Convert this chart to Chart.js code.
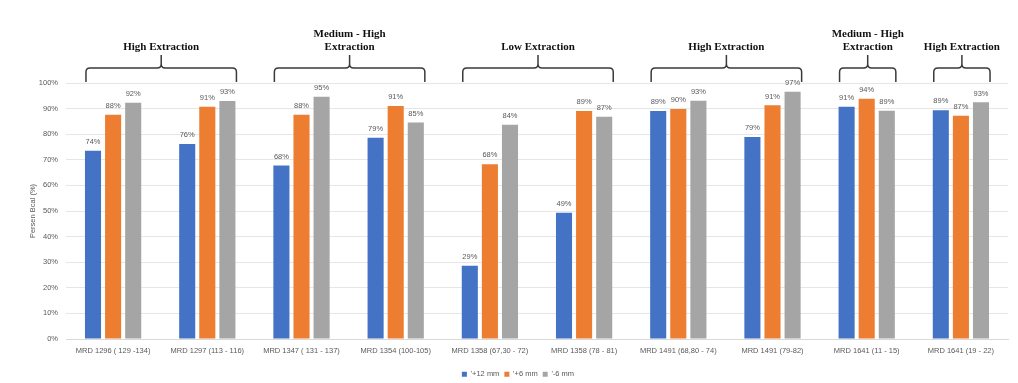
<!DOCTYPE html>
<html>
<head>
<meta charset="utf-8">
<script src="https://cdn.jsdelivr.net/npm/chart.js@4"></script>
<style>
  html, body { margin: 0; padding: 0; background: #fff; }
  #wrap { width: 1018px; height: 383px; position: relative; }
</style>
</head>
<body>
<div id="wrap"><canvas id="c"></canvas></div>
<script>
// Sample intervals
const categories = [
  'MRD 1296 ( 129 -134)', 'MRD 1297 (113 - 116)', 'MRD 1347 ( 131 - 137)',
  'MRD 1354 (100-105)', 'MRD 1358 (67,30 - 72)', 'MRD 1358 (78 - 81)',
  'MRD 1491 (68,80 - 74)', 'MRD 1491 (79-82)', 'MRD 1641 (11 - 15)', 'MRD 1641 (19 - 22)'
];
// Percentage of Bcal per size fraction
const plus12 = [73.5, 76.2, 67.8, 78.6, 28.6, 49.3, 89.1, 78.9, 90.7, 89.4];
const plus6  = [87.6, 90.7, 87.6, 91.0, 68.3, 89.1, 89.8, 91.3, 93.8, 87.2];
const minus6 = [92.3, 93.0, 94.6, 84.6, 83.7, 86.8, 93.1, 96.6, 89.2, 92.5];
const seriesNames = ["'+12 mm", "'+6 mm", "'-6 mm"];
const yTicks = [0, 10, 20, 30, 40, 50, 60, 70, 80, 90, 100];

// Extraction classes spanning sample groups
const groupLabels = [['High Extraction'], ['Medium - High', 'Extraction'], ['Low Extraction'],
                     ['High Extraction'], ['Medium - High', 'Extraction'], ['High Extraction']];
const groupFrom = [0, 2, 4, 6, 8, 9];
const groupTo   = [1, 3, 5, 7, 8, 9];

const colors = ['#4472C4', '#ED7D31', '#A5A5A5'];
const FONT = "'Liberation Sans', Arial, sans-serif";

const valueLabels = {
  id: 'valueLabels',
  afterDatasetsDraw(chart) {
    const ctx = chart.ctx;
    ctx.save();
    ctx.font = '7.5px ' + FONT;
    ctx.fillStyle = '#595959';
    ctx.textAlign = 'center';
    ctx.textBaseline = 'bottom';
    chart.data.datasets.forEach((ds, i) => {
      chart.getDatasetMeta(i).data.forEach((bar, j) => {
        ctx.fillText(Math.round(ds.data[j]) + '%', bar.x, bar.y - 5);
      });
    });
    ctx.restore();
  }
};

const braces = {
  id: 'braces',
  afterDraw(chart) {
    const ctx = chart.ctx;
    const m0 = chart.getDatasetMeta(0).data;
    const m2 = chart.getDatasetMeta(2).data;
    const base = chart.chartArea.top - 1;
    const flat = base - 14;
    const peak = base - 27;
    const r = 4;
    ctx.save();
    ctx.strokeStyle = '#3a3a3a';
    ctx.lineWidth = 1.5;
    groupLabels.forEach((lab, g) => {
      const a = m0[groupFrom[g]], b = m2[groupTo[g]];
      const x1 = a.x - a.width / 2 + 1;
      const x2 = b.x + b.width / 2 + 1;
      const cx = (x1 + x2) / 2;
      ctx.beginPath();
      ctx.moveTo(x1, base);
      ctx.lineTo(x1, flat + r);
      ctx.quadraticCurveTo(x1, flat, x1 + r, flat);
      ctx.lineTo(cx - r, flat);
      ctx.quadraticCurveTo(cx, flat, cx, flat - r);
      ctx.lineTo(cx, peak);
      ctx.moveTo(cx, flat - r);
      ctx.quadraticCurveTo(cx, flat, cx + r, flat);
      ctx.lineTo(x2 - r, flat);
      ctx.quadraticCurveTo(x2, flat, x2, flat + r);
      ctx.lineTo(x2, base);
      ctx.stroke();

      ctx.fillStyle = '#111';
      ctx.font = "bold 11px 'Liberation Serif', 'Times New Roman', serif";
      ctx.textAlign = 'center';
      ctx.textBaseline = 'middle';
      const lineH = 13;
      const lastY = peak - 8;
      lab.forEach((t, k) => {
        ctx.fillText(t, cx, lastY - (lab.length - 1 - k) * lineH);
      });
    });
    ctx.restore();
  }
};

new Chart(document.getElementById('c'), {
  type: 'bar',
  data: {
    labels: categories,
    datasets: [plus12, plus6, minus6].map((d, i) => ({
      label: seriesNames[i],
      data: d,
      backgroundColor: colors[i],
      borderWidth: 0,
      barPercentage: 0.8,
      categoryPercentage: 0.64
    }))
  },
  options: {
    responsive: true,
    maintainAspectRatio: false,
    animation: false,
    layout: { padding: { top: 83, right: 10, left: 28, bottom: -5 } },
    plugins: {
      legend: {
        position: 'bottom',
        labels: {
          boxWidth: 5, boxHeight: 5, padding: 5,
          font: { size: 7.5, family: FONT }, color: '#595959'
        }
      },
      tooltip: { enabled: false }
    },
    scales: {
      x: {
        afterFit(s) { s.height = 26.5; },
        grid: { display: false, drawTicks: false },
        border: { color: '#d9d9d9' },
        ticks: { font: { size: 7.5, family: FONT }, color: '#595959', maxRotation: 0, autoSkip: false, padding: 7 }
      },
      y: {
        min: 0, max: 100,
        afterFit(s) { s.width = 38; },
        afterBuildTicks(s) { s.ticks = yTicks.map(v => ({ value: v })); },
        grid: { color: '#e6e6e6', drawTicks: false },
        border: { display: false },
        ticks: {
          font: { size: 7.5, family: FONT }, color: '#595959', padding: 8,
          callback: v => v + '%'
        },
        title: { display: true, text: 'Persen Bcal (%)', font: { size: 7.5, family: FONT }, color: '#595959', padding: 0 }
      }
    }
  },
  plugins: [valueLabels, braces]
});
</script>
</body>
</html>
